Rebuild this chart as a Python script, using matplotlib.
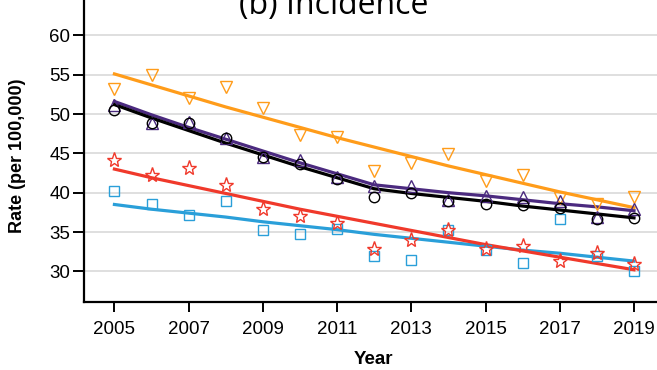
import matplotlib.pyplot as plt

years = list(range(2005, 2020))

# observed rates per 100,000
orange_obs = [53.2, 55.0, 52.1, 53.4, 50.8, 47.3, 47.1, 42.7, 43.8, 44.9, 41.5, 42.2, 39.3, 38.6, 39.5]
black_obs = [50.5, 48.8, 48.8, 47.0, 44.6, 43.7, 41.8, 39.5, 39.9, 39.0, 38.5, 38.4, 38.1, 36.6, 36.8]
purple_obs = [51.1, 48.9, 49.0, 47.0, 44.5, 44.2, 42.0, 40.8, 40.8, 39.1, 39.6, 39.4, 39.0, 36.9, 37.9]
red_obs = [44.1, 42.2, 43.2, 41.0, 37.9, 37.0, 36.1, 32.9, 34.0, 35.3, 32.8, 33.2, 31.3, 32.3, 30.9]
blue_obs = [40.2, 38.5, 37.2, 38.9, 35.3, 34.7, 35.4, 31.9, 31.5, 35.3, 32.7, 31.1, 36.7, 32.0, 30.1]

# modelled trend values
orange_fit = [55.1, 53.7, 52.3, 50.9, 49.6, 48.3, 47.0, 45.8, 44.6, 43.4, 42.3, 41.2, 40.1, 39.1, 38.1]
black_fit = [51.2, 49.5, 47.9, 46.3, 44.8, 43.3, 41.9, 40.5, 39.9, 39.4, 38.9, 38.3, 37.8, 37.3, 36.8]
purple_fit = [51.6, 49.9, 48.3, 46.8, 45.3, 43.8, 42.4, 41.0, 40.5, 40.0, 39.6, 39.1, 38.6, 38.2, 37.7]
red_fit = [43.0, 41.9, 40.9, 39.9, 38.9, 37.9, 37.0, 36.1, 35.2, 34.3, 33.4, 32.6, 31.8, 31.0, 30.2]
blue_fit = [38.5, 37.9, 37.4, 36.9, 36.3, 35.8, 35.3, 34.7, 34.2, 33.7, 33.2, 32.7, 32.3, 31.8, 31.3]

yticks = [30, 35, 40, 45, 50, 55, 60]
xticks = [2005, 2007, 2009, 2011, 2013, 2015, 2017, 2019]

ORANGE = '#ff9c1a'
BLACK = '#000000'
PURPLE = '#4b2a7f'
RED = '#f0392b'
BLUE = '#2a9fd9'

plt.rcParams['font.family'] = ['Liberation Sans', 'DejaVu Sans']

fig = plt.figure(figsize=(6.57, 3.70), dpi=100)
ax = fig.add_axes([84 / 657, 68 / 370, 1 - 84 / 657, 302 / 370])

series = [
    (orange_obs, orange_fit, ORANGE, 'v', 8.5),
    (blue_obs, blue_fit, BLUE, 's', 7.5),
    (red_obs, red_fit, RED, '*', 11),
    (purple_obs, purple_fit, PURPLE, '^', 8.5),
    (black_obs, black_fit, BLACK, 'o', 7.5),
]

for obs, fit, col, mk, ms in series:
    ax.plot(years, fit, color=col, lw=2.3, zorder=3)
    ax.plot(years, obs, ls='none', marker=mk, ms=ms, mfc='none', mec=col,
            mew=1.0, zorder=4)

ax.set_xlim(2004.18, 2019.62)
ax.set_ylim(26.1, 64.5)
ax.set_yticks(yticks)
ax.set_xticks(xticks)
ax.yaxis.grid(True, color='#d9d9d9', lw=1.2)
ax.set_axisbelow(True)

for s in ['top', 'right']:
    ax.spines[s].set_visible(False)
for s in ['left', 'bottom']:
    ax.spines[s].set_linewidth(1.6)

ax.tick_params(axis='y', length=8, width=1.4, labelsize=13.5, pad=2)
ax.tick_params(axis='x', length=7, width=1.4, labelsize=13.5, pad=7)

fig.text(18 / 657, 1 - 156 / 370, 'Rate (per 100,000)', rotation=90,
         ha='center', va='center', fontsize=13, fontweight='bold')
fig.text(373 / 657, 1 - 359 / 370, 'Year', ha='center', va='center',
         fontsize=13.5, fontweight='bold')
fig.text(334 / 657, 1 - 14 / 370, '(b) Incidence', ha='center',
         va='baseline', fontsize=23, family=['Open Sans', 'DejaVu Sans'])

fig.savefig('out.png', dpi=100)
